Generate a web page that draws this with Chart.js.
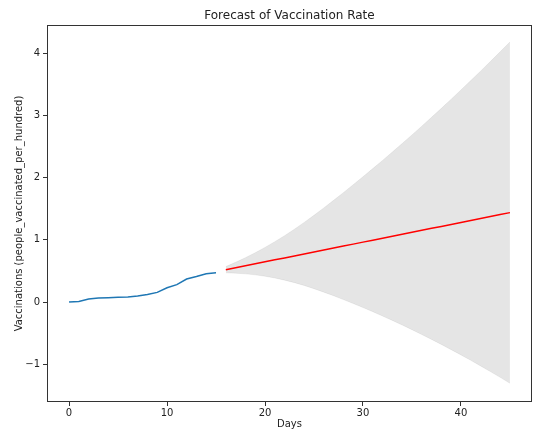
<!DOCTYPE html>
<html>
<head>
<meta charset="utf-8">
<title>Forecast of Vaccination Rate</title>
<script src="https://cdn.jsdelivr.net/npm/chart.js@4"></script>
<style>
    html, body { margin: 0; padding: 0; background: #fff; }
    #wrap { width: 534px; height: 430px; }
</style>
</head>
<body>
<div id="wrap"><canvas id="myChart" width="534" height="430"></canvas></div>
<script>
// observed days and values
const histDays = [0, 1, 2, 3, 4, 5, 6, 7, 8, 9, 10, 11, 12, 13, 14, 15];
const histValues = [0.00, 0.01, 0.05, 0.065, 0.07, 0.075, 0.08, 0.095, 0.12, 0.155, 0.23, 0.28, 0.37, 0.41, 0.455, 0.47];

// forecast days, mean and confidence band
const fcDays = [16, 17, 18, 19, 20, 21, 22, 23, 24, 25, 26, 27, 28, 29, 30,
                31, 32, 33, 34, 35, 36, 37, 38, 39, 40, 41, 42, 43, 44, 45];
const fcMean = [0.520, 0.552, 0.583, 0.615, 0.647, 0.679, 0.710, 0.742, 0.774, 0.805,
                0.837, 0.869, 0.900, 0.932, 0.964, 0.996, 1.027, 1.059, 1.091, 1.122,
                1.154, 1.186, 1.217, 1.249, 1.281, 1.313, 1.344, 1.376, 1.408, 1.439];
const fcUpper = [0.570, 0.640, 0.713, 0.793, 0.879, 0.971, 1.068, 1.172, 1.282, 1.396,
                 1.515, 1.637, 1.761, 1.888, 2.017, 2.148, 2.280, 2.415, 2.552, 2.690,
                 2.831, 2.974, 3.118, 3.265, 3.414, 3.565, 3.717, 3.872, 4.029, 4.187];
const fcLower = [0.470, 0.464, 0.453, 0.437, 0.415, 0.387, 0.352, 0.312, 0.266, 0.214,
                 0.159, 0.101, 0.039, -0.024, -0.089, -0.156, -0.226, -0.297, -0.370, -0.446,
                 -0.523, -0.602, -0.684, -0.767, -0.852, -0.939, -1.029, -1.120, -1.213, -1.309];

const xTicks = [0, 10, 20, 30, 40];
const yTicks = [-1, 0, 1, 2, 3, 4];

const toPoints = (xs, ys) => xs.map((x, i) => ({ x: x, y: ys[i] }));
const fmtTick = (v) => String(v).replace('-', '\u2212');

// title + frame drawn around the plot area, matplotlib style
const framePlugin = {
    id: 'frame',
    afterDraw(chart) {
        const { ctx, chartArea } = chart;
        ctx.save();
        ctx.strokeStyle = '#333';
        ctx.lineWidth = 1;
        ctx.strokeRect(Math.round(chartArea.left) + 0.5, Math.round(chartArea.top) + 0.5,
            Math.round(chartArea.right - chartArea.left) - 1, Math.round(chartArea.bottom - chartArea.top) - 1);
        ctx.fillStyle = '#222';
        ctx.font = '12px "DejaVu Sans"';
        ctx.textAlign = 'center';
        ctx.textBaseline = 'alphabetic';
        ctx.fillText('Forecast of Vaccination Rate', (chartArea.left + chartArea.right) / 2, chartArea.top - 6);
        ctx.restore();
    }
};

Chart.defaults.font.family = '"DejaVu Sans", sans-serif';
Chart.defaults.font.size = 10;
Chart.defaults.color = '#222';

const ctx = document.getElementById('myChart').getContext('2d');
const myChart = new Chart(ctx, {
    type: 'line',
    data: {
        datasets: [
            {
                label: 'Upper',
                data: toPoints(fcDays, fcUpper),
                borderColor: 'rgba(0, 0, 0, 0.06)',
                borderWidth: 1,
                backgroundColor: 'rgba(0, 0, 0, 0.1)',
                fill: '+1',
                pointRadius: 0,
                tension: 0,
                order: 3
            },
            {
                label: 'Lower',
                data: toPoints(fcDays, fcLower),
                borderColor: 'rgba(0, 0, 0, 0.06)',
                borderWidth: 1,
                fill: false,
                pointRadius: 0,
                tension: 0,
                order: 3
            },
            {
                label: 'Observed',
                data: toPoints(histDays, histValues),
                borderColor: '#1f77b4',
                borderWidth: 1.5,
                fill: false,
                pointRadius: 0,
                tension: 0,
                order: 1
            },
            {
                label: 'Forecast',
                data: toPoints(fcDays, fcMean),
                borderColor: '#ff0000',
                borderWidth: 1.5,
                fill: false,
                pointRadius: 0,
                tension: 0,
                order: 0
            }
        ]
    },
    options: {
        responsive: false,
        animation: false,
        layout: { padding: { top: 25, right: 2, left: 0, bottom: 0 } },
        plugins: {
            legend: { display: false },
            title: { display: false },
            tooltip: { enabled: false }
        },
        scales: {
            x: {
                type: 'linear',
                min: -2.25,
                max: 47.25,
                afterBuildTicks: (scale) => { scale.ticks = xTicks.map(v => ({ value: v })); },
                afterFit: (scale) => { scale.height = 28; },
                grid: { drawOnChartArea: false, drawTicks: true, tickLength: 4, color: '#333' },
                border: { display: false },
                ticks: { padding: 1, maxRotation: 0, color: '#222', callback: fmtTick },
                title: { display: true, text: 'Days', color: '#222', padding: { top: 0, bottom: 0 } }
            },
            y: {
                type: 'linear',
                min: -1.61,
                max: 4.46,
                afterBuildTicks: (scale) => { scale.ticks = yTicks.map(v => ({ value: v })); },
                afterFit: (scale) => { scale.width = 47; },
                grid: { drawOnChartArea: false, drawTicks: true, tickLength: 4, color: '#333' },
                border: { display: false },
                ticks: { padding: 3, color: '#222', callback: fmtTick },
                title: { display: true, text: 'Vaccinations (people_vaccinated_per_hundred)', color: '#222', padding: { top: 13, bottom: 0 } }
            }
        }
    },
    plugins: [framePlugin]
});
</script>
</body>
</html>
